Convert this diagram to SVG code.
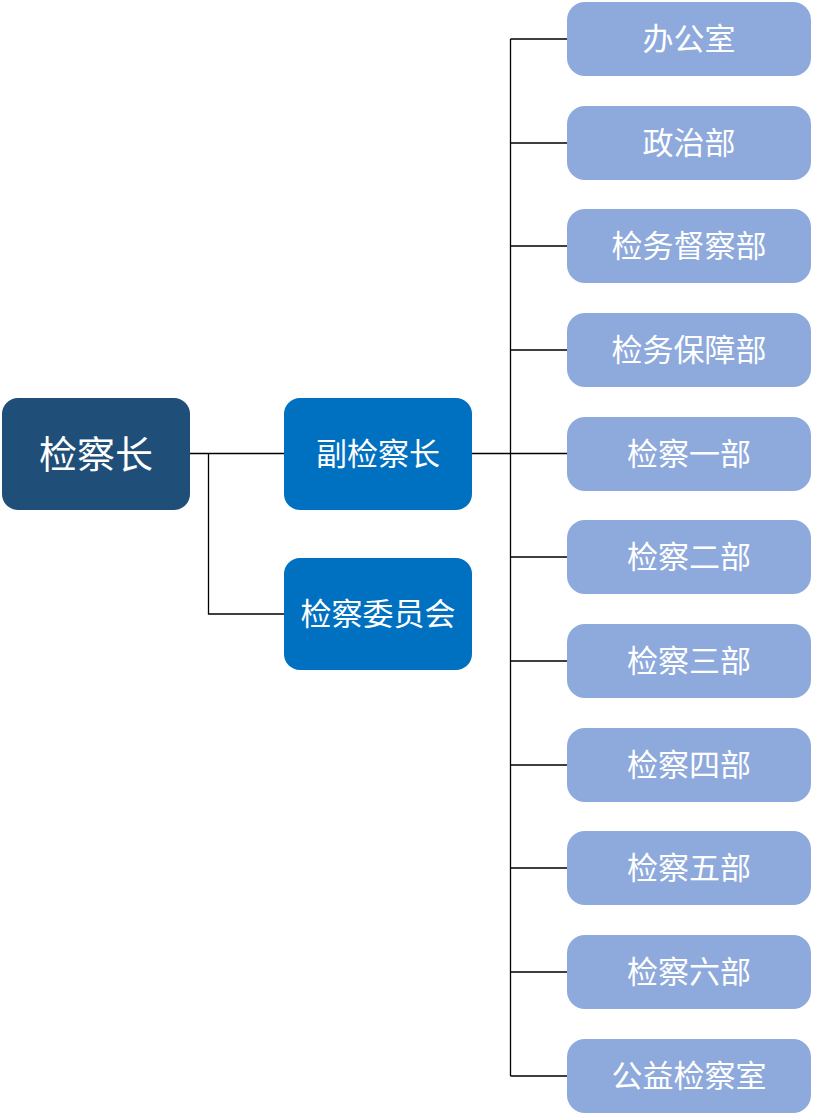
<svg xmlns="http://www.w3.org/2000/svg" width="813" height="1115" viewBox="0 0 813 1115">
<style>
.t{font-family:"Noto Sans CJK SC","Liberation Sans",sans-serif;fill:#fff;text-anchor:middle;dominant-baseline:central}
.root{fill:#1F4E79}
.mid{fill:#0070C0}
.dep{fill:#8EA9DB}
.c{stroke:#000;stroke-width:1.3;fill:none}
</style>
<rect width="813" height="1115" fill="#fff"/>
<g id="connectors">
<path class="c" d="M190 453.5H284M208.5 453.5V614H284"/>
<path class="c" d="M472 453.5H567M510.5 39V1076"/>
<path class="c" d="M510.5 39H567M510.5 143H567M510.5 246H567M510.5 350H567M510.5 557H567M510.5 661H567M510.5 765H567M510.5 868H567M510.5 972H567M510.5 1076H567"/>
</g>
<g id="n-root"><rect class="root" x="2" y="398" width="188" height="112" rx="16"/><text class="t" x="96" y="451" font-size="38">检察长</text></g>
<g id="n-vice"><rect class="mid" x="284" y="398" width="188" height="112" rx="16"/><text class="t" x="378" y="451" font-size="31">副检察长</text></g>
<g id="n-committee"><rect class="mid" x="284" y="558" width="188" height="112" rx="16"/><text class="t" x="378" y="611" font-size="31">检察委员会</text></g>
<g id="n1"><rect class="dep" x="567" y="2" width="244" height="74" rx="18"/><text class="t" x="689" y="36" font-size="31">办公室</text></g>
<g id="n2"><rect class="dep" x="567" y="106" width="244" height="74" rx="18"/><text class="t" x="689" y="140" font-size="31">政治部</text></g>
<g id="n3"><rect class="dep" x="567" y="209" width="244" height="74" rx="18"/><text class="t" x="689" y="243" font-size="31">检务督察部</text></g>
<g id="n4"><rect class="dep" x="567" y="313" width="244" height="74" rx="18"/><text class="t" x="689" y="347" font-size="31">检务保障部</text></g>
<g id="n5"><rect class="dep" x="567" y="417" width="244" height="74" rx="18"/><text class="t" x="689" y="451" font-size="31">检察一部</text></g>
<g id="n6"><rect class="dep" x="567" y="520" width="244" height="74" rx="18"/><text class="t" x="689" y="554" font-size="31">检察二部</text></g>
<g id="n7"><rect class="dep" x="567" y="624" width="244" height="74" rx="18"/><text class="t" x="689" y="658" font-size="31">检察三部</text></g>
<g id="n8"><rect class="dep" x="567" y="728" width="244" height="74" rx="18"/><text class="t" x="689" y="762" font-size="31">检察四部</text></g>
<g id="n9"><rect class="dep" x="567" y="831" width="244" height="74" rx="18"/><text class="t" x="689" y="865" font-size="31">检察五部</text></g>
<g id="n10"><rect class="dep" x="567" y="935" width="244" height="74" rx="18"/><text class="t" x="689" y="969" font-size="31">检察六部</text></g>
<g id="n11"><rect class="dep" x="567" y="1039" width="244" height="74" rx="18"/><text class="t" x="689" y="1073" font-size="31">公益检察室</text></g>
</svg>
